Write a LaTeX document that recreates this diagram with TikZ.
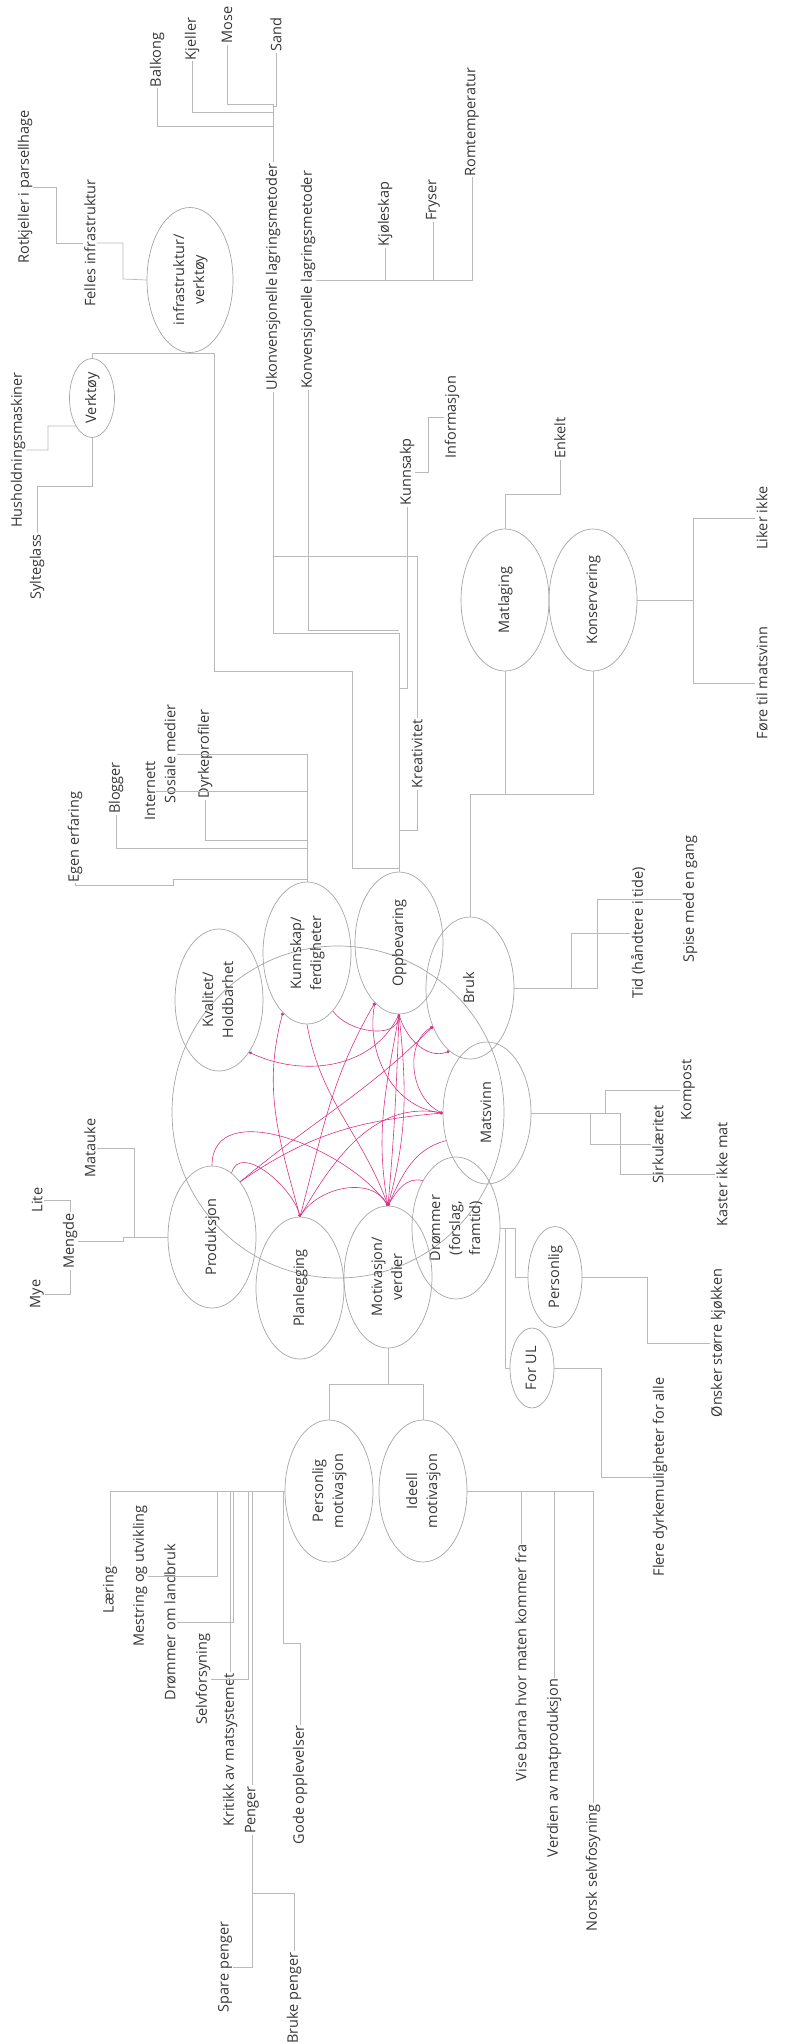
\documentclass[tikz,border=0pt]{standalone}
\usepackage{fontspec}
\setmainfont{Open Sans}
\usepackage{graphicx}
\usetikzlibrary{shapes.geometric, arrows.meta}

\definecolor{linegray}{RGB}{185,185,185}
\definecolor{bubblegray}{RGB}{165,165,165}
\definecolor{textgray}{RGB}{55,55,55}
\definecolor{linkpink}{RGB}{214,51,132}

\newcommand{\vtext}[1]{\rotatebox{90}{\begin{tabular}{@{}c@{}}#1\end{tabular}}}

\begin{document}
\begin{tikzpicture}[
    x=1pt, y=1pt,
    font=\fontsize{14.5}{20}\selectfont, text=textgray,
    leaf/.style={rotate=90, inner sep=1pt},
    bubble/.style={draw=bubblegray, line width=0.7pt, ellipse, inner sep=1pt,
      minimum width=88pt, minimum height=142pt},
    twig/.style={draw=linegray, line width=0.7pt},
    link/.style={draw=linkpink, line width=0.6pt, -{Circle[length=3pt]}},
]
\useasboundingbox (0,0) rectangle (794,-2044);

% Ring round the themes
\node[draw=bubblegray, line width=0.7pt, circle, minimum size=332pt] (ring)
  at (338,-1112) {};

% Themes
\node[bubble, minimum width=86pt, minimum height=145pt] (infra) at (190,-280)
  {\vtext{infrastruktur/\\verktøy}};
\node[bubble, minimum width=45pt, minimum height=79pt] (verktoy) at (92,-398)
  {\vtext{Verktøy}};
\node[bubble] (matlag) at (505,-600) {\vtext{Matlaging}};
\node[bubble] (konserv) at (593,-600) {\vtext{Konservering}};
\node[bubble] (kval) at (219,-1000) {\vtext{Kvalitet/\\Holdbarhet}};
\node[bubble] (kunn) at (307,-953) {\vtext{Kunnskap/\\ferdigheter}};
\node[bubble] (oppb) at (399,-943) {\vtext{Oppbevaring}};
\node[bubble] (bruk) at (470,-988) {\vtext{Bruk}};
\node[bubble] (matsv) at (487,-1113) {\vtext{Matsvinn}};
\node[bubble] (drom) at (456,-1228) {\vtext{Drømmer\\(forslag,\\framtid)}};
\node[bubble, minimum width=54pt, minimum height=101pt] (perslig) at (555,-1277)
  {\vtext{Personlig}};
\node[bubble, minimum width=44pt, minimum height=80pt] (forul) at (532,-1368)
  {\vtext{For UL}};
\node[bubble] (prod) at (212,-1237) {\vtext{Produksjon}};
\node[bubble] (plan) at (300,-1288) {\vtext{Planlegging}};
\node[bubble] (motiv) at (388,-1277) {\vtext{Motivasjon/\\verdier}};
\node[bubble] (persmot) at (329,-1491) {\vtext{Personlig\\motivasjon}};
\node[bubble] (ideell) at (423,-1491) {\vtext{Ideell\\motivasjon}};

% Leaf labels
\foreach \n/\x/\y/\t in {
  balkong/157/60/Balkong, kjeller/192/39/Kjeller, mose/227/25/Mose,
  sand/276/35/Sand,
  ukon/273/277/Ukonvensjonelle lagringsmetoder,
  konv/308/280/Konvensjonelle lagringsmetoder,
  kjol/385/214/Kjøleskap, frys/433/200/Fryser, romt/472/122/Romtemperatur,
  rotk/25/187/Rotkjeller i parsellhage, felles/90/243/Felles infrastruktur,
  hush/18/450/Husholdningsmaskiner, sylt/37/567/Sylteglass,
  kunnsakp/407/472/Kunnsakp, info/452/417/Informasjon,
  kreat/417/754/Kreativitet, enkelt/560/438/Enkelt,
  liker/762/518/Liker ikke, fore/762/683/Føre til matsvinn,
  egen/75/837/Egen erfaring, blogg/116/788/Blogger,
  internett/150/791/Internett, sosiale/170/754/Sosiale medier,
  dyrke/205/754/Dyrkeprofiler,
  tid/638/933/Tid (håndtere i tide), spise/690/899/Spise med en gang,
  kompost/688/1090/Kompost, sirk/658/1144/Sirkulæritet,
  kaster/722/1174/Kaster ikke mat,
  onsker/718/1343/Ønsker større kjøkken,
  flere/660/1477/Flere dyrkemuligheter for alle,
  matauke/90/1148/Matauke, mengde/70/1241/Mengde,
  lite/37/1200/Lite, mye/37/1294/Mye,
  laering/110/1590/Læring, mestring/140/1576/Mestring og utvikling,
  dromland/170/1622/Drømmer om landbruk, selvf/203/1679/Selvforsyning,
  kritikk/230/1750/Kritikk av matsystemet, penger/252/1810/Penger,
  gode/300/1785/Gode opplevelser, spare/225/1967/Spare penger,
  bruke/294/1998/Bruke penger,
  vise/521/1663/Vise barna hvor maten kommer fra,
  verdien/554/1768/Verdien av matproduksjon,
  norsk/593/1868/Norsk selvfosyning} {
  \node[leaf] (\n) at (\x,-\y) {\t};
}

% Storage branch
\draw[twig] (sand.west) |- (ukon.east |- 0,-106);
\draw[twig] (mose.west) |- (ukon.east |- 0,-104) -- (ukon.east);
\draw[twig] (kjeller.west) |- (ukon.east |- 0,-112);
\draw[twig] (balkong.west) |- (ukon.east |- 0,-126);
\draw[twig] (ukon.west) |- (oppb.north |- 0,-633) -- (oppb.north);
\draw[twig] (konv.west) |- (oppb.north |- 0,-630);
\draw[twig] (konv.south) -| (romt.west);
\draw[twig] (kjol.west) -- (kjol.west |- konv.south);
\draw[twig] (frys.west) -- (frys.west |- konv.south);
\draw[twig] (kreat.east) |- (ukon.west |- 0,-556);
\draw[twig] (kreat.west) |- (oppb.north |- 0,-830);
\draw[twig] (kunnsakp.west) |- (oppb.north |- 0,-688);
\draw[twig] (kunnsakp.south) -| (428,-417) -- (info.north);

% Infrastructure branch
\draw[twig] (infra.south) -| (214,-671) -| (352,-868) -| (oppb.north);
\draw[twig] (verktoy.north) |- (infra.south);
\draw[twig] (hush.south) -| (48,-426) -- (verktoy.240);
\draw[twig] (sylt.east) |- (verktoy.south |- 0,-486) -- (verktoy.south);
\draw[twig] (rotk.south) -| (56,-243) -- (felles.north);
\draw[twig] (felles.south) -| (123,-279) -- (infra.west);

% Use branch
\draw[twig] (enkelt.west) |- (matlag.north |- 0,-494) -- (matlag.north);
\draw[twig] (konserv.east) -| (693,-518) -- (liker.north);
\draw[twig] (konserv.east) -| (693,-683) -- (fore.north);
\draw[twig] (bruk.north) |- (matlag.south |- 0,-794) -- (matlag.south);
\draw[twig] (bruk.north) |- (konserv.south |- 0,-794) -- (konserv.south);
\draw[twig] (bruk.east) -| (571,-933) -- (tid.north);
\draw[twig] (bruk.east) -| (597,-899) -- (spise.north);

% Knowledge branch
\draw[twig] (sosiale.south) -| (kunn.north);
\draw[twig] (internett.south) -- (internett.south -| kunn.north);
\draw[twig] (dyrke.west) |- (kunn.north |- 0,-840);
\draw[twig] (blogg.west) |- (kunn.north |- 0,-848);
\draw[twig] (egen.west) |- (173,-885) |- (kunn.north |- 0,-879);

% Waste and dreams
\draw[twig] (matsv.east) -| (605,-1090) -- (kompost.north);
\draw[twig] (matsv.east) -| (590,-1144) -- (sirk.north);
\draw[twig] (matsv.east) -| (620,-1174) -- (kaster.north);
\draw[twig] (drom.east) -| (515,-1277) -- (perslig.west);
\draw[twig] (drom.east) -| (505,-1368) -- (forul.west);
\draw[twig] (perslig.east) -| (647,-1343) -- (onsker.north);
\draw[twig] (forul.east) -| (601,-1477) -- (flere.north);

% Production
\draw[twig] (prod.west) -| (134,-1148) -- (matauke.south);
\draw[twig] (mengde.south) -- (123,-1241) |- (prod.west);
\draw[twig] (lite.south) -| (mengde.east);
\draw[twig] (mye.south) -| (mengde.west);

% Motivation
\draw[twig] (motiv.south) |- (persmot.north |- 0,-1384) -- (persmot.north);
\draw[twig] (motiv.south) |- (ideell.north |- 0,-1384) -- (ideell.north);
\draw[twig] (persmot.west) -| (laering.east);
\draw[twig] (persmot.west) -| (217,-1576) -- (mestring.south);
\draw[twig] (persmot.west) -| (233,-1622) -- (dromland.south);
\draw[twig] (persmot.west) -| (248,-1679) -- (selvf.south);
\draw[twig] (persmot.west) -| (kritikk.east);
\draw[twig] (persmot.west) -| (penger.east);
\draw[twig] (persmot.west) -| (283,-1643) -| (gode.east);
\draw[twig] (penger.west) |- (spare.south);
\draw[twig] (penger.west) |- (bruke.east |- 0,-1893) -- (bruke.east);
\draw[twig] (ideell.east) -| (vise.east);
\draw[twig] (ideell.east) -| (verdien.east);
\draw[twig] (ideell.east) -| (norsk.east);

% Links between themes
\draw[link] (oppb.south) to[out=-115, in=-25] (kval.300);
\draw[link] (kunn.294) to[out=-55, in=-95] (oppb.south);
\draw[link] (oppb.south) to[out=-75, in=-160] (bruk.252);
\draw[link] (oppb.south) to[out=-92, in=85] (motiv.north);
\draw[link] (oppb.south) to[out=-100, in=100] (motiv.north);
\draw[link] (oppb.south) to[out=-84, in=75] (motiv.north);
\draw[link] (matsv.west) to[out=175, in=-100] (oppb.248);
\draw[link] (matsv.west) to[out=160, in=-150] (bruk.226);
\draw[link] (plan.north) to[out=105, in=-105] (kunn.248);
\draw[link] (plan.north) to[out=75, in=-120] (oppb.248);
\draw[link] (plan.north) to[out=60, in=170] (matsv.west);
\draw[link] (kunn.south) to[out=-80, in=110] (motiv.north);
\draw[link] (prod.north) to[out=90, in=125] (motiv.north);
\draw[link] (prod.73) to[out=75, in=105] (plan.north);
\draw[link] (prod.63) to[out=40, in=-135] (bruk.226);
\draw[link] (prod.63) to[out=35, in=185] (matsv.west);
\draw[link] (matsv.214) to[out=-165, in=65] (motiv.north);
\draw[link] (plan.north) to[out=60, in=120] (motiv.north);
\draw[link] (drom.125) to[out=165, in=60] (motiv.north);

\end{tikzpicture}
\end{document}
